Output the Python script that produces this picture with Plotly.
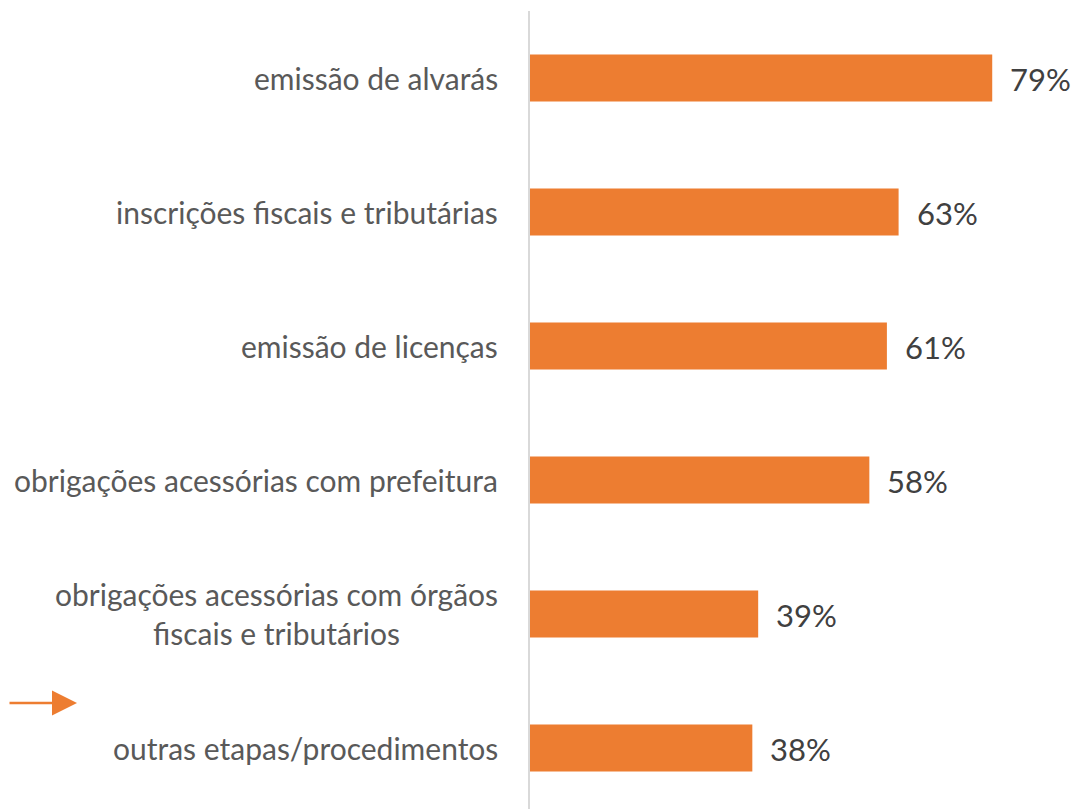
import plotly.graph_objects as go

categorias = [
    "emissão de alvarás",
    "inscrições fiscais e tributárias",
    "emissão de licenças",
    "obrigações acessórias com prefeitura",
    "obrigações acessórias com órgãos<br>fiscais e tributários",
    "outras etapas/procedimentos",
]
valores = [79, 63, 61, 58, 39, 38]

LARANJA = "#ED7D31"
FONTE = "Lato, 'Open Sans', sans-serif"

fig = go.Figure(
    go.Bar(
        x=valores,
        y=list(range(len(categorias))),
        orientation="h",
        marker=dict(color=LARANJA, line=dict(width=0)),
        width=0.35,
        hoverinfo="x+y",
    )
)

for i, (c, v) in enumerate(zip(categorias, valores)):
    # rótulo da categoria (centralizado quando quebra linha)
    fig.add_annotation(
        x=0, xref="paper", y=i, yref="y",
        text=c, showarrow=False,
        xanchor="right", yanchor="middle", align="center",
        xshift=-30,
        font=dict(family=FONTE, size=30, color="#595959"),
    )
    # valor no fim da barra
    fig.add_annotation(
        x=v, xref="x", y=i, yref="y",
        text=f"{v}%", showarrow=False,
        xanchor="left", yanchor="middle",
        xshift=16, yshift=-1,
        font=dict(family=FONTE, size=31, color="#404040"),
    )

# seta laranja à esquerda
fig.add_annotation(
    x=-0.8133, xref="paper", y=0.1414, yref="paper",
    ax=-72, ay=0, axref="pixel", ayref="pixel",
    text="", showarrow=True,
    arrowhead=2, arrowsize=2, arrowwidth=2.5, arrowcolor=LARANJA,
)

fig.update_layout(
    width=1079, height=809,
    margin=dict(l=522, r=0, t=3, b=0),
    plot_bgcolor="white", paper_bgcolor="white",
    showlegend=False,
    font=dict(family=FONTE),
)
fig.update_xaxes(range=[0, 95.2], visible=False, showgrid=False)
fig.update_yaxes(
    range=[5.515, -0.5], showticklabels=False, showgrid=False, zeroline=False,
    showline=True, linecolor="#D9D9D9", linewidth=2, ticks="",
)

fig.write_html("out.html")
